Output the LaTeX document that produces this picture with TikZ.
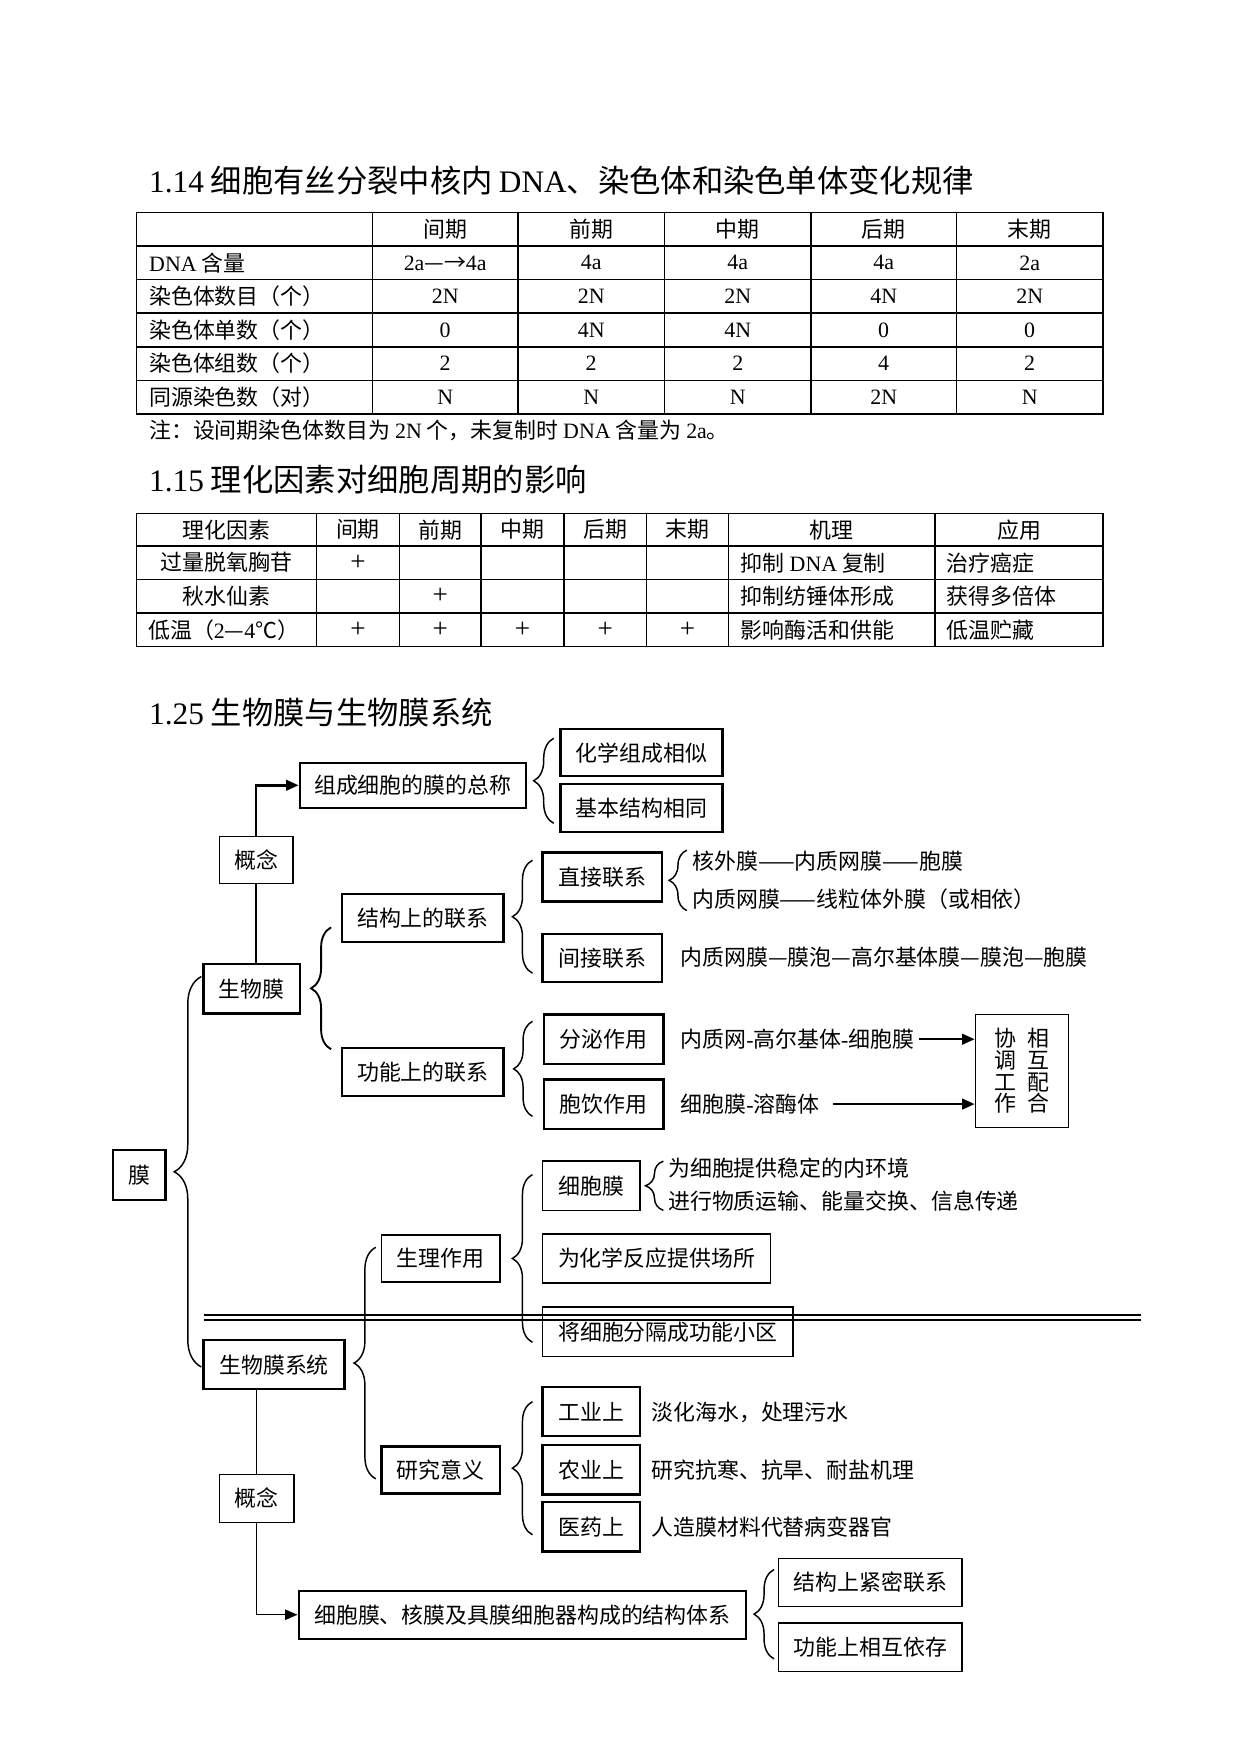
\documentclass[tikz,border=0pt]{standalone}
\usepackage{fontspec}
\setmainfont{Noto Sans CJK SC}
\newfontfamily\latf{Liberation Serif}
\newcommand\Lf[1]{{\latf #1}}
\usetikzlibrary{arrows.meta,decorations.pathreplacing}
\begin{document}
\begin{tikzpicture}[x=0.536pt,y=-0.536pt,
  every node/.style={inner sep=0pt,font=\fontsize{10.5pt}{12.6pt}\selectfont},
  ttl/.style={anchor=west,font=\fontsize{15pt}{18pt}\selectfont},
  txt/.style={anchor=west},
  pls/.style={font=\fontsize{13pt}{14pt}\latf},
  tl/.style={line width=0.7pt},
  bx/.style args={#1/#2}{draw,line width=1.1pt,minimum width=#1*0.536pt,minimum height=#2*0.536pt},
  bxt/.style args={#1/#2}{draw,line width=0.7pt,minimum width=#1*0.536pt,minimum height=#2*0.536pt},
  brc/.style={decorate,decoration={brace,amplitude=#1},line width=0.7pt},
  thk/.style={line width=1.2pt},
  thn/.style={line width=0.7pt},
  arr/.style={-{Triangle[length=6pt,width=5pt]}}
]
\useasboundingbox (0,0) rectangle (1109,1568);

% ---------- 1.14 ----------
\node[ttl] (t114) at (133,161) {\Lf{1.14} 细胞有丝分裂中核内\hspace{3pt}\Lf{DNA}、染色体和染色单体变化规律};
\draw[tl] (122,190) rectangle (986,370);
\foreach \y in {220,250,280,310,340} \draw[tl] (122,\y) -- (986,\y);
\foreach \x in {333,463,594,725,855} \draw[tl] (\x,190) -- (\x,370);

\foreach \x/\t [count=\i] in {398/间期,528.5/前期,659.5/中期,790/后期,920.5/末期}
  \node (ah\i) at (\x,205) {\t};
\node[txt] (a1l) at (133,235) {\Lf{DNA} 含量};
\node[txt] (a2l) at (133,265) {染色体数目（个）};
\node[txt] (a3l) at (133,295) {染色体单数（个）};
\node[txt] (a4l) at (133,325) {染色体组数（个）};
\node[txt] (a5l) at (133,355) {同源染色数（对）};
\foreach \x/\t [count=\i] in {398/{\Lf{2a}—→\Lf{4a}},528.5/\Lf{4a},659.5/\Lf{4a},790/\Lf{4a},920.5/\Lf{2a}}
  \node (a1\i) at (\x,235) {\t};
\foreach \x/\t [count=\i] in {398/2N,528.5/2N,659.5/2N,790/4N,920.5/2N}
  \node[font=\fontsize{10.5pt}{12pt}\latf] (a2\i) at (\x,265) {\t};
\foreach \x/\t [count=\i] in {398/0,528.5/4N,659.5/4N,790/0,920.5/0}
  \node[font=\fontsize{10.5pt}{12pt}\latf] (a3\i) at (\x,295) {\t};
\foreach \x/\t [count=\i] in {398/2,528.5/2,659.5/2,790/4,920.5/2}
  \node[font=\fontsize{10.5pt}{12pt}\latf] (a4\i) at (\x,325) {\t};
\foreach \x/\t [count=\i] in {398/N,528.5/N,659.5/N,790/2N,920.5/N}
  \node[font=\fontsize{10.5pt}{12pt}\latf] (a5\i) at (\x,355) {\t};
\node[txt] (note) at (133,385) {注：设间期染色体数目为 \Lf{2N} 个，未复制时 \Lf{DNA} 含量为 \Lf{2a}。};

% ---------- 1.15 ----------
\node[ttl] (t115) at (133,429) {\Lf{1.15} 理化因素对细胞周期的影响};
\draw[tl] (122,459) rectangle (986,578);
\foreach \y in {488,518,548} \draw[tl] (122,\y) -- (986,\y);
\foreach \x in {283,357,430,504,578,651,836} \draw[tl] (\x,459) -- (\x,578);
\foreach \x/\t [count=\i] in {202.5/理化因素,320/间期,393.5/前期,467/中期,541/后期,614.5/末期,743.5/机理,911/应用}
  \node (bh\i) at (\x,473.5) {\t};
\node (b1l) at (202.5,503) {过量脱氧胸苷};
\node (b2l) at (202.5,533) {秋水仙素};
\node (b3l) at (200,563) {低温（\Lf{2}—\Lf{4}℃）};
\node[pls] (b1p) at (320,503) {+};
\node[pls] (b2p) at (393.5,533) {+};
\foreach \x [count=\i] in {320,393.5,467,541,614.5}
  \node[pls] (b3p\i) at (\x,563) {+};
\node[txt] (b1m) at (662,503) {抑制 \Lf{DNA} 复制};
\node[txt] (b2m) at (662,533) {抑制纺锤体形成};
\node[txt] (b3m) at (662,563) {影响酶活和供能};
\node[txt] (b1a) at (846,503) {治疗癌症};
\node[txt] (b2a) at (846,533) {获得多倍体};
\node[txt] (b3a) at (846,563) {低温贮藏};

% ---------- 1.25 ----------
\node[ttl] (t125) at (133,637) {\Lf{1.25} 生物膜与生物膜系统};

\node[bx=202/40] (zc) at (369,702) {组成细胞的膜的总称};
\node[bx=145/42] (hx1) at (573.5,673) {化学组成相似};
\node[bx=145/43] (hx2) at (573.5,722.5) {基本结构相同};
\node[bxt=66/42] (gn1) at (229,769) {概念};
\node[bx=86/44] (swm) at (225,884) {生物膜};
\node[bx=144/43] (jg) at (378,820.5) {结构上的联系};
\node[bx=144/43] (gnl) at (378,958.5) {功能上的联系};
\node[bx=107/44] (zj) at (538.5,784) {直接联系};
\node[bx=107/43] (jj) at (538.5,856.5) {间接联系};
\node[bx=107/44] (fm) at (539.5,929) {分泌作用};
\node[bx=107/44] (by) at (539.5,987) {胞饮作用};
\node[bxt=83/101,align=center,font=\fontsize{10.5pt}{10.4pt}\selectfont] (xt) at (913.5,957.5)
  {协\hspace{5pt}相\\调\hspace{5pt}互\\工\hspace{5pt}配\\作\hspace{5pt}合};
\node[txt] (t1) at (618.5,770) {核外膜——内质网膜——胞膜};
\node[txt] (t2) at (618.5,804) {内质网膜——线粒体外膜（或相依）};
\node[txt] (t3) at (608,856) {内质网膜—膜泡—高尔基体膜—膜泡—胞膜};
\node[txt] (t4) at (608,929) {内质网\Lf{-}高尔基体\Lf{-}细胞膜};
\node[txt] (t5) at (608,987) {细胞膜\Lf{-}溶酶体};

\node[bx=47/45] (mo) at (124.5,1050.5) {膜};
\node[bxt=87/44] (xbm) at (528.5,1060) {细胞膜};
\node[txt] (t6) at (597,1044) {为细胞提供稳定的内环境};
\node[txt] (t7) at (597,1074) {进行物质运输、能量交换、信息传递};
\node[bxt=106/42] (slzy) at (394,1125) {生理作用};
\node[bxt=204/44] (hxfy) at (587,1125) {为化学反应提供场所};
\node[bxt=224/44] (fg) at (597,1190.5) {将细胞分隔成功能小区};
\node[bx=126/44] (swmxt) at (245,1220) {生物膜系统};
\node[bxt=67/43] (gn2) at (229.5,1339.5) {概念};
\node[bx=106/42] (yjyy) at (394,1314) {研究意义};
\node[bx=87/44] (gy) at (528.5,1262) {工业上};
\node[bx=87/44] (ny) at (528.5,1314) {农业上};
\node[bx=87/44] (yy) at (528.5,1365) {医药上};
\node[txt] (t8) at (582,1263) {淡化海水，处理污水};
\node[txt] (t9) at (582,1314) {研究抗寒、抗旱、耐盐机理};
\node[txt] (t10) at (582,1365) {人造膜材料代替病变器官};
\node[bx=400/43] (jgtx) at (467,1443.5) {细胞膜、核膜及具膜细胞器构成的结构体系};
\node[bxt=164/43] (jmlx) at (778,1414.5) {结构上紧密联系};
\node[bxt=164/43] (xhyc) at (778,1472.5) {功能上相互依存};

% double rule
\draw[line width=1.2pt] (182,1175.5) -- (1020,1175.5);
\draw[line width=1.2pt] (182,1180) -- (1020,1180);

% braces
\draw[brc=9.6pt] (495,736) -- (495,660);
\draw[brc=9.6pt,line width=0.9pt] (296,938) -- (296,829);
\draw[brc=9.6pt] (476,870) -- (476,769);
\draw[brc=8.5pt] (614,814) -- (614,760);
\draw[brc=9pt] (476,998) -- (476,913);
\draw[brc=13pt] (180,1222) -- (180,873);
\draw[brc=8.5pt] (593,1082) -- (593,1038);
\draw[brc=9.6pt] (476,1200) -- (476,1050);
\draw[brc=10.5pt] (336,1322) -- (336,1115);
\draw[brc=9.6pt] (476,1372) -- (476,1253);
\draw[brc=9.6pt] (692,1483) -- (692,1403);

% connectors
\draw[thk,arr] (gn1.north) |- (zc.west);
\draw[thk] (gn1.south) -- (gn1.south |- swm.north);
\draw[thn] (gn2.north) -- (gn2.north |- swmxt.south);
\draw[thn,arr] (gn2.south) |- (jgtx.west);
\draw[thk,arr] ([xshift=2pt]t4.east) -- (t4.east -| xt.west);
\draw[thk,arr] ([xshift=6.4pt]t5.east) -- (t5.east -| xt.west);
\end{tikzpicture}
\end{document}
